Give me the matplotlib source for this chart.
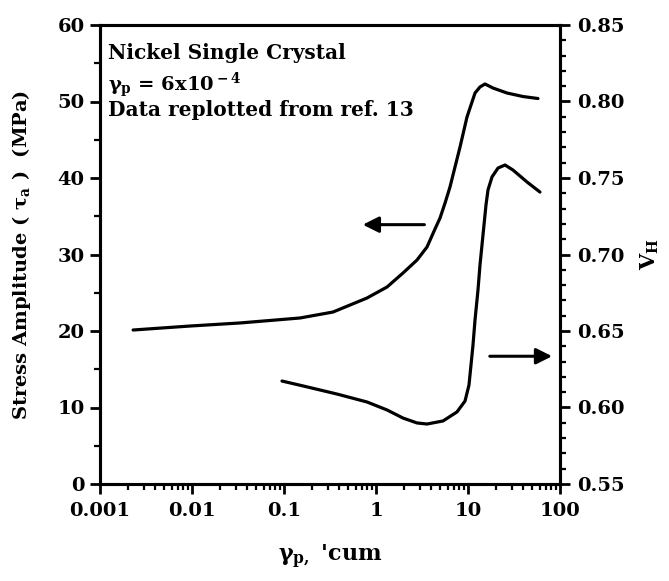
import matplotlib
matplotlib.use("Agg")
import matplotlib.pyplot as plt
from matplotlib.ticker import FixedLocator, FixedFormatter, MultipleLocator, LogLocator, NullFormatter

plt.rcParams['font.family'] = ['DejaVu Serif']
plt.rcParams['font.weight'] = 'bold'
plt.rcParams['mathtext.fontset'] = 'custom'
plt.rcParams['mathtext.rm'] = 'DejaVu Serif:bold'
plt.rcParams['mathtext.it'] = 'DejaVu Serif:bold'
plt.rcParams['mathtext.bf'] = 'DejaVu Serif:bold'

# stress amplitude (left axis, MPa) vs cumulative plastic strain
gamma_stress = [0.00229, 0.0095, 0.0332, 0.149, 0.341, 0.798, 1.317, 1.966, 2.791, 3.584,
                4.377, 4.966, 5.63, 6.37, 8.19, 9.75, 11.92, 13.5, 15.3, 18.7,
                26.55, 39.6, 57.6]
tau_a = [20.13, 20.65, 21.05, 21.70, 22.48, 24.31, 25.75, 27.58, 29.28, 30.98,
         33.33, 34.77, 36.73, 38.82, 44.05, 47.97, 51.11, 51.90, 52.29, 51.76,
         51.11, 50.65, 50.39]

# V_H (right axis)
gamma_vh = [0.0951, 0.1609, 0.3767, 0.7985, 1.317, 1.966, 2.791, 3.584, 5.35, 7.59,
            9.28, 10.25, 10.78, 11.33, 11.92, 12.84, 13.50, 14.55, 15.69, 16.50,
            18.24, 21.19, 25.25, 30.84, 43.78, 60.6]
v_h = [0.6173, 0.6141, 0.6088, 0.6036, 0.5984, 0.5931, 0.5899, 0.5892, 0.5912, 0.5971,
       0.6042, 0.6147, 0.6278, 0.6408, 0.6572, 0.6768, 0.6931, 0.7127, 0.7324, 0.7422,
       0.7507, 0.7565, 0.7585, 0.7552, 0.7474, 0.7408]

x_ticks = [0.001, 0.01, 0.1, 1, 10, 100]
x_labels = ['0.001', '0.01', '0.1', '1', '10', '100']
left_ticks = [0, 10, 20, 30, 40, 50, 60]
right_ticks = [0.55, 0.60, 0.65, 0.70, 0.75, 0.80, 0.85]

fig = plt.figure(figsize=(6.69, 5.81), dpi=100)
ax = fig.add_axes([100 / 669, 1 - 484 / 581, 460 / 669, 459 / 581])
ax2 = ax.twinx()

ax.plot(gamma_stress, tau_a, color='black', lw=2.3,
        solid_capstyle='round', solid_joinstyle='round')
ax2.plot(gamma_vh, v_h, color='black', lw=2.3,
         solid_capstyle='round', solid_joinstyle='round')

ax.set_xscale('log')
ax.set_xlim(0.001, 100)
ax.set_ylim(0, 60)
ax2.set_ylim(0.55, 0.85)

ax.xaxis.set_major_locator(FixedLocator(x_ticks))
ax.xaxis.set_major_formatter(FixedFormatter(x_labels))
ax.xaxis.set_minor_locator(LogLocator(base=10, subs=range(2, 10), numticks=20))
ax.xaxis.set_minor_formatter(NullFormatter())

ax.yaxis.set_major_locator(FixedLocator(left_ticks))
ax.yaxis.set_minor_locator(MultipleLocator(5))
ax2.yaxis.set_major_locator(FixedLocator(right_ticks))
ax2.yaxis.set_major_formatter(FixedFormatter(['%.2f' % v for v in right_ticks]))
ax2.yaxis.set_minor_locator(MultipleLocator(0.01))

for a in (ax, ax2):
    for s in a.spines.values():
        s.set_linewidth(2.2)
    a.tick_params(which='major', direction='out', length=7, width=2, labelsize=14)
    a.tick_params(which='minor', direction='out', length=4, width=1.6)
ax.tick_params(axis='y', pad=4)
ax.tick_params(axis='x', pad=6)
ax2.tick_params(axis='y', pad=5)

ax.set_ylabel(r'Stress Amplitude ( $\tau_{\rm a}$ )  (MPa)', fontsize=14, fontweight='bold')
ax.yaxis.set_label_coords(-0.145, 0.5)
ax2.set_ylabel(r'$\rm V_H$', fontsize=15, fontweight='bold')
ax2.yaxis.set_label_coords(1.172, 0.5)
ax.set_xlabel(r"$\gamma_{\rm p,}$ 'cum", fontsize=16, fontweight='bold')
ax.xaxis.set_label_coords(0.5, -0.128)

ax.text(0.017, 0.94, 'Nickel Single Crystal', transform=ax.transAxes,
        fontsize=14.5, fontweight='bold', va='center', ha='left')
ax.text(0.017, 0.868, r'$\gamma_{\rm p}$ = 6x10$^{\rm -4}$', transform=ax.transAxes,
        fontsize=14, fontweight='bold', va='center', ha='left')
ax.text(0.017, 0.815, 'Data replotted from ref. 13', transform=ax.transAxes,
        fontsize=14.5, fontweight='bold', va='center', ha='left')

ax.annotate('', xy=(0.67, 33.9), xytext=(3.6, 33.9),
            arrowprops=dict(arrowstyle='-|>', color='black', lw=2.2, mutation_scale=24))
ax.annotate('', xy=(88, 16.7), xytext=(16.1, 16.7),
            arrowprops=dict(arrowstyle='-|>', color='black', lw=2.2, mutation_scale=24))

fig.savefig('out.png', dpi=100)
